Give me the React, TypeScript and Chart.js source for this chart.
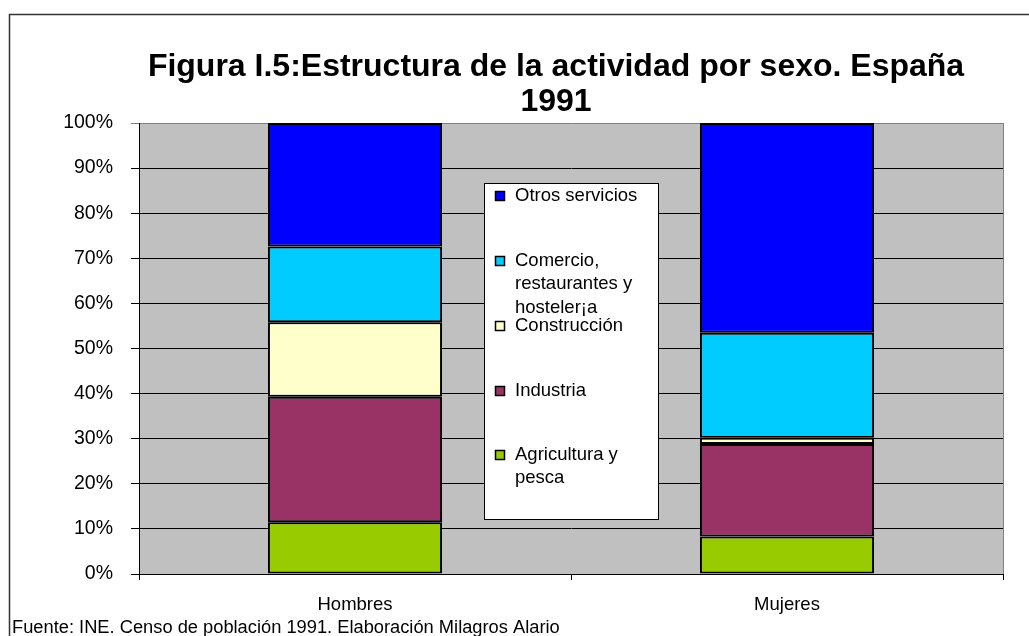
import React, { useEffect, useRef } from "react";
import { Chart, registerables } from "chart.js";

Chart.register(...registerables);

const categories = ["Hombres", "Mujeres"];
const seriesNames = [
  "Agricultura y pesca",
  "Industria",
  "Construcción",
  "Comercio, restaurantes y hosteler¡a",
  "Otros servicios",
];
const legendLines = [
  ["Agricultura y", "pesca"],
  ["Industria"],
  ["Construcción"],
  ["Comercio,", "restaurantes y", "hosteler¡a"],
  ["Otros servicios"],
];
const agricultura = [11.5, 8.3];
const industria = [27.8, 20.5];
const construccion = [16.5, 1.4];
const comercio = [16.8, 23.3];
const otros = [27.4, 46.5];
const seriesColors = ["#99CC00", "#993366", "#FFFFCC", "#00CCFF", "#0000FF"];
const titleLines = ["Figura I.5:Estructura de la actividad por sexo. España", "1991"];
const footnote = "Fuente: INE. Censo de población 1991. Elaboración Milagros Alario";
const yTicks = [0, 10, 20, 30, 40, 50, 60, 70, 80, 90, 100];

const FONT = '"Liberation Sans", Arial, sans-serif';

export default function App() {
  const ref = useRef<HTMLCanvasElement | null>(null);

  useEffect(() => {
    if (!ref.current) return;
    const series = [agricultura, industria, construccion, comercio, otros];

    const decor = {
      id: "decor",
      beforeDraw(chart: any) {
        const { ctx, chartArea: a } = chart;
        ctx.save();
        ctx.fillStyle = "#C0C0C0";
        ctx.fillRect(a.left, a.top, a.right - a.left, a.bottom - a.top);
        ctx.restore();
      },
      afterDraw(chart: any) {
        const { ctx, chartArea: a } = chart;
        ctx.save();
        // plot area right border
        ctx.strokeStyle = "#808080";
        ctx.lineWidth = 1;
        ctx.beginPath();
        ctx.moveTo(a.right + 0.5, a.top);
        ctx.lineTo(a.right + 0.5, a.bottom);
        ctx.stroke();
        // outer frame
        ctx.strokeStyle = "#333333";
        ctx.lineWidth = 1.5;
        ctx.beginPath();
        ctx.moveTo(9.5, 640);
        ctx.lineTo(9.5, 14.5);
        ctx.lineTo(1035, 14.5);
        ctx.stroke();
        // title
        ctx.fillStyle = "#000";
        ctx.font = `bold 32px ${FONT}`;
        ctx.textAlign = "center";
        ctx.textBaseline = "alphabetic";
        ctx.fillText(titleLines[0], 556, 76);
        ctx.fillText(titleLines[1], 556, 111);
        // footnote
        ctx.font = `18.3px ${FONT}`;
        ctx.textAlign = "left";
        ctx.textBaseline = "middle";
        ctx.fillText(footnote, 12, 628);
        // legend
        const lx = 484, ly = 183, lw = 174, lh = 336;
        ctx.fillStyle = "#FFFFFF";
        ctx.fillRect(lx, ly, lw, lh);
        ctx.strokeStyle = "#000";
        ctx.lineWidth = 1;
        ctx.strokeRect(lx + 0.5, ly + 0.5, lw, lh);
        ctx.font = `18.5px ${FONT}`;
        ctx.textBaseline = "middle";
        const centers = [455, 391, 326, 261, 196];
        for (let i = 0; i < legendLines.length; i++) {
          const cy = centers[i];
          ctx.fillStyle = seriesColors[i];
          ctx.fillRect(495, cy - 5, 10, 10);
          ctx.strokeStyle = "#000";
          ctx.lineWidth = 1.5;
          ctx.strokeRect(495.5, cy - 4.5, 9, 9);
          ctx.fillStyle = "#000";
          legendLines[i].forEach((t, j) => {
            ctx.fillText(t, 515, cy + j * 23.4);
          });
        }
        ctx.restore();
      },
    };

    const chart = new Chart(ref.current, {
      type: "bar",
      data: {
        labels: categories,
        datasets: seriesNames.map((name, i) => ({
          label: name,
          data: series[i],
          backgroundColor: seriesColors[i],
          borderColor: "#000000",
          borderWidth: 2,
          borderSkipped: false,
          categoryPercentage: 1,
          barPercentage: 0.403,
        })),
      },
      options: {
        responsive: false,
        animation: false,
        devicePixelRatio: 1,
        layout: { padding: { top: 123, right: 26, bottom: 0, left: 0 } },
        plugins: {
          legend: { display: false },
          title: { display: false },
          tooltip: { enabled: false },
        },
        scales: {
          x: {
            stacked: true,
            afterFit: (s: any) => {
              s.height = 62;
            },
            grid: {
              display: true,
              offset: true,
              drawOnChartArea: false,
              drawTicks: true,
              tickLength: 6,
              color: "#000",
            },
            border: { display: true, color: "#000", width: 1 },
            ticks: {
              color: "#000",
              font: { family: FONT, size: 18.5 },
              padding: 14,
            },
          },
          y: {
            stacked: true,
            min: 0,
            max: 100,
            afterFit: (s: any) => {
              s.width = 139;
            },
            afterBuildTicks: (s: any) => {
              s.ticks = yTicks.map((v) => ({ value: v }));
            },
            grid: {
              color: (c: any) => (c.tick && c.tick.value === 100 ? "#808080" : "#000"),
              lineWidth: 1,
              tickLength: 8,
              drawTicks: true,
            },
            border: { display: true, color: "#000", width: 1 },
            ticks: {
              color: "#000",
              font: { family: FONT, size: 19.5 },
              padding: 18,
              callback: (v: any) => `${v}%`,
            },
          },
        },
      },
      plugins: [decor],
    });

    return () => chart.destroy();
  }, []);

  return (
    <div style={{ position: "absolute", left: 0, top: 0, width: 1029, height: 636, background: "#fff" }}>
      <canvas ref={ref} width={1029} height={636} style={{ display: "block", width: 1029, height: 636 }} />
    </div>
  );
}
